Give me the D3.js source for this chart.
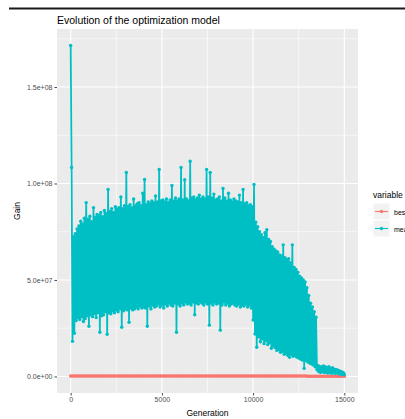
<!DOCTYPE html>
<html>
<head>
<meta charset="utf-8">
<script src="https://cdn.jsdelivr.net/npm/d3@7"></script>
<style>
  body { margin: 0; background: #fff; overflow: hidden; }
  svg { display: block; font-family: "Liberation Sans", Arial, sans-serif; }
</style>
</head>
<body>
<svg id="svg" width="405" height="419"></svg>
<script>
// sampling step (in generations) of each series
let meanStep = 50;
let bestStep = 100;

// mean gain per sampled generation (every 50, 0 .. 15000), in millions
let meanValues = [
  171.5, 108.3, 18.2, 72.4, 22.4, 74.0, 29.0, 76.5, 30.5, 78.0,
  29.5, 80.5, 31.0, 79.0, 28.5, 82.0, 30.0, 90.1, 31.5, 81.5,
  26.0, 83.0, 32.0, 80.2, 31.0, 87.5, 32.5, 82.5, 30.5, 84.0,
  33.0, 83.5, 22.9, 85.0, 31.5, 82.8, 32.0, 86.0, 33.5, 84.5,
  21.9, 96.9, 33.0, 85.5, 32.5, 87.0, 34.0, 85.0, 33.0, 88.0,
  34.5, 86.5, 33.5, 87.5, 35.0, 93.0, 25.5, 87.0, 34.0, 88.5,
  35.0, 105.7, 34.5, 88.0, 28.1, 89.0, 35.5, 87.5, 34.5, 92.0,
  35.0, 88.5, 36.0, 89.5, 35.0, 90.0, 36.5, 88.5, 35.5, 95.0,
  36.0, 102.1, 35.5, 89.0, 26.0, 90.5, 36.5, 89.5, 35.0, 91.0,
  37.0, 90.0, 36.0, 93.5, 36.5, 90.5, 37.5, 107.3, 36.0, 91.0,
  37.0, 91.5, 35.5, 90.5, 37.5, 92.0, 36.5, 90.0, 38.0, 91.5,
  37.0, 99.0, 36.5, 91.0, 38.0, 92.5, 22.9, 91.0, 37.5, 92.0,
  36.5, 108.3, 38.0, 91.5, 37.0, 102.0, 38.5, 92.0, 37.5, 91.0,
  38.0, 111.5, 37.0, 92.5, 38.5, 93.0, 32.0, 91.5, 38.0, 92.5,
  37.5, 94.0, 39.0, 92.0, 38.0, 93.0, 37.0, 92.0, 38.5, 107.3,
  37.5, 93.0, 26.6, 105.7, 38.0, 92.5, 37.0, 94.5, 38.5, 91.5,
  37.5, 92.0, 38.0, 93.0, 24.0, 91.0, 37.0, 97.4, 38.5, 92.5,
  37.0, 91.0, 38.0, 95.0, 36.5, 91.5, 37.5, 90.5, 38.0, 92.0,
  37.0, 91.0, 36.5, 90.5, 37.5, 94.0, 36.0, 90.0, 37.0, 96.9,
  36.5, 89.5, 37.5, 90.0, 36.0, 88.5, 37.0, 89.0, 35.5, 88.0,
  29.2, 99.5, 22.0, 80.0, 15.1, 77.6, 20.5, 75.0, 18.0, 73.5,
  19.5, 72.0, 17.0, 74.5, 18.5, 76.0, 16.5, 71.0, 17.5, 70.0,
  14.6, 67.2, 16.0, 66.0, 15.0, 65.0, 13.5, 64.5, 14.0, 63.0,
  12.5, 62.5, 13.0, 68.2, 11.5, 61.5, 12.0, 60.5, 11.0, 61.0,
  9.9, 59.0, 11.5, 68.2, 10.5, 56.5, 11.0, 55.5, 10.0, 54.0,
  9.5, 52.0, 9.0, 51.0, 8.5, 50.0, 4.2, 49.0, 8.3, 46.0,
  7.5, 42.0, 7.0, 38.0, 6.5, 36.0, 6.0, 33.5, 5.0, 30.7,
  3.5, 5.7, 2.5, 5.2, 2.1, 4.8, 2.5, 5.5, 2.0, 5.0,
  2.2, 4.6, 1.8, 5.0, 2.0, 4.2, 1.6, 4.5, 2.0, 3.8,
  1.5, 3.6, 1.8, 3.2, 1.4, 2.8, 1.2, 2.4, 1.0, 2.0,
  1.0
];

// best gain per sampled generation (every 100, 0 .. 15000), in millions
let bestValues = [
  0.2, 0.2, 0.2, 0.2, 0.2, 0.2, 0.2, 0.2, 0.2, 0.2,
  0.2, 0.2, 0.2, 0.2, 0.2, 0.2, 0.2, 0.2, 0.2, 0.2,
  0.2, 0.2, 0.2, 0.2, 0.2, 0.2, 0.2, 0.2, 0.2, 0.2,
  0.2, 0.2, 0.2, 0.2, 0.2, 0.2, 0.2, 0.2, 0.2, 0.2,
  0.2, 0.2, 0.2, 0.2, 0.2, 0.2, 0.2, 0.2, 0.2, 0.2,
  0.2, 0.2, 0.2, 0.2, 0.2, 0.2, 0.2, 0.2, 0.2, 0.2,
  0.2, 0.2, 0.2, 0.2, 0.2, 0.2, 0.2, 0.2, 0.2, 0.2,
  0.2, 0.2, 0.2, 0.2, 0.2, 0.2, 0.2, 0.2, 0.2, 0.2,
  0.2, 0.2, 0.2, 0.2, 0.2, 0.2, 0.2, 0.2, 0.2, 0.2,
  0.2, 0.2, 0.2, 0.2, 0.2, 0.2, 0.2, 0.2, 0.2, 0.2,
  0.2, 0.2, 0.2, 0.2, 0.2, 0.2, 0.2, 0.2, 0.2, 0.2,
  0.2, 0.2, 0.2, 0.2, 0.2, 0.2, 0.2, 0.2, 0.2, 0.2,
  0.2, 0.2, 0.2, 0.2, 0.2, 0.2, 0.2, 0.2, 0.2, 0.2,
  0.1, 0.1, 0.1, 0.1, 0.1, 0.1, 0.1, 0.1, 0.1, 0.1,
  0.1, 0.1, 0.1, 0.1, 0.1, 0.1, 0.1, 0.1, 0.1, 0.1,
  0.1
];

let seriesNames = ["best", "mean"];
let seriesColours = ["#F8766D", "#00BFC4"];

let xTicks = [0, 5000, 10000, 15000];
let xMinor = [2500, 7500, 12500];
let yTicks = [0, 5e7, 1e8, 1.5e8];
let yTickLabels = ["0.0e+00", "5.0e+07", "1.0e+08", "1.5e+08"];
let yMinor = [2.5e7, 7.5e7, 1.25e8, 1.75e8];

let svg = d3.select("#svg");

// ggplot-like panel
const panel = { left: 57, right: 358, top: 29, bottom: 393 };

function toSeries(values, step) {
    return values.map((v, i) => ({ gen: i * step, value: v * 1e6 }));
}

let series = [toSeries(bestValues, bestStep), toSeries(meanValues, meanStep)];

// scales with the 5% expansion ggplot uses
let xExt = d3.extent(series[1], d => d.gen);
let xPad = (xExt[1] - xExt[0]) * 0.05;
let xScale = d3.scaleLinear()
    .domain([xExt[0] - xPad, xExt[1] + xPad])
    .range([panel.left, panel.right]);

let allVals = series.flat().map(d => d.value);
let yMax = d3.max(allVals);
let yPad = yMax * 0.05;
let yScale = d3.scaleLinear()
    .domain([0 - yPad, yMax + yPad])
    .range([panel.bottom, panel.top]);

// top rule (part of the screenshot)
svg.append("line")
    .attr("x1", 9).attr("x2", 405)
    .attr("y1", 8.5).attr("y2", 8.5)
    .attr("stroke", "#1a1a1a")
    .attr("stroke-width", 2);

// panel background
svg.append("rect")
    .attr("x", panel.left).attr("y", panel.top)
    .attr("width", panel.right - panel.left)
    .attr("height", panel.bottom - panel.top)
    .attr("fill", "#EBEBEB");

let grid = svg.append("g");
// minor grid
grid.selectAll(".xminor").data(xMinor).enter().append("line")
    .attr("x1", d => xScale(d)).attr("x2", d => xScale(d))
    .attr("y1", panel.top).attr("y2", panel.bottom)
    .attr("stroke", "#fff").attr("stroke-width", 0.6);
grid.selectAll(".yminor").data(yMinor).enter().append("line")
    .attr("x1", panel.left).attr("x2", panel.right)
    .attr("y1", d => yScale(d)).attr("y2", d => yScale(d))
    .attr("stroke", "#fff").attr("stroke-width", 0.6);
// major grid
grid.selectAll(".xmajor").data(xTicks).enter().append("line")
    .attr("x1", d => xScale(d)).attr("x2", d => xScale(d))
    .attr("y1", panel.top).attr("y2", panel.bottom)
    .attr("stroke", "#fff").attr("stroke-width", 1.1);
grid.selectAll(".ymajor").data(yTicks).enter().append("line")
    .attr("x1", panel.left).attr("x2", panel.right)
    .attr("y1", d => yScale(d)).attr("y2", d => yScale(d))
    .attr("stroke", "#fff").attr("stroke-width", 1.1);

// series: best first, mean on top
let lineWidths = [1.4, 1.8];
let pointRadius = [1.8, 1.7];
let line = d3.line().x(d => xScale(d.gen)).y(d => yScale(d.value));
let plot = svg.append("g");
series.forEach((s, k) => {
    let g = plot.append("g");
    g.append("path")
        .datum(s)
        .attr("d", line)
        .attr("fill", "none")
        .attr("stroke", seriesColours[k])
        .attr("stroke-width", lineWidths[k])
        .attr("stroke-linejoin", "round");
    g.selectAll("circle").data(s).enter().append("circle")
        .attr("cx", d => xScale(d.gen))
        .attr("cy", d => yScale(d.value))
        .attr("r", pointRadius[k])
        .attr("fill", seriesColours[k]);
});

// axes
let xAxis = svg.append("g")
    .attr("transform", "translate(0," + panel.bottom + ")")
    .call(d3.axisBottom(xScale).tickValues(xTicks).tickSize(2.5).tickPadding(2).tickFormat(d3.format("d")));
let yAxis = svg.append("g")
    .attr("transform", "translate(" + panel.left + ",0)")
    .call(d3.axisLeft(yScale).tickValues(yTicks).tickSize(2.5).tickPadding(2)
        .tickFormat((d, i) => yTickLabels[i]));
[xAxis, yAxis].forEach(a => {
    a.select(".domain").remove();
    a.selectAll(".tick line").attr("stroke", "#333").attr("stroke-width", 0.9);
    a.selectAll(".tick text").attr("fill", "#4D4D4D").style("font-size", "7px")
        .style("font-family", "Liberation Sans, Arial, sans-serif");
});

// title and axis titles
svg.append("text")
    .attr("x", panel.left).attr("y", 24)
    .style("font-size", "10.5px")
    .attr("fill", "#000")
    .text("Evolution of the optimization model");

svg.append("text")
    .attr("x", (panel.left + panel.right) / 2).attr("y", 416)
    .attr("text-anchor", "middle")
    .style("font-size", "8.5px")
    .attr("fill", "#000")
    .text("Generation");

svg.append("text")
    .attr("transform", "translate(20," + (panel.top + panel.bottom) / 2 + ") rotate(-90)")
    .attr("text-anchor", "middle")
    .style("font-size", "8.5px")
    .attr("fill", "#000")
    .text("Gain");

// legend (cut off by the right edge, as in the screenshot)
let legend = svg.append("g").attr("transform", "translate(373,0)");
legend.append("text")
    .attr("x", 0).attr("y", 198)
    .style("font-size", "8.5px")
    .attr("fill", "#000")
    .text("variable");
seriesNames.forEach((name, k) => {
    let ky = 203 + k * 17;
    legend.append("rect")
        .attr("x", 0).attr("y", ky)
        .attr("width", 17).attr("height", 17)
        .attr("fill", "#F2F2F2")
        .attr("stroke", "#fff");
    legend.append("line")
        .attr("x1", 2).attr("x2", 15)
        .attr("y1", ky + 8.5).attr("y2", ky + 8.5)
        .attr("stroke", seriesColours[k]).attr("stroke-width", 1.1);
    legend.append("circle")
        .attr("cx", 8.5).attr("cy", ky + 8.5).attr("r", 1.7)
        .attr("fill", seriesColours[k]);
    legend.append("text")
        .attr("x", 21).attr("y", ky + 11.5)
        .style("font-size", "7px")
        .attr("fill", "#000")
        .text(name);
});
</script>
</body>
</html>
